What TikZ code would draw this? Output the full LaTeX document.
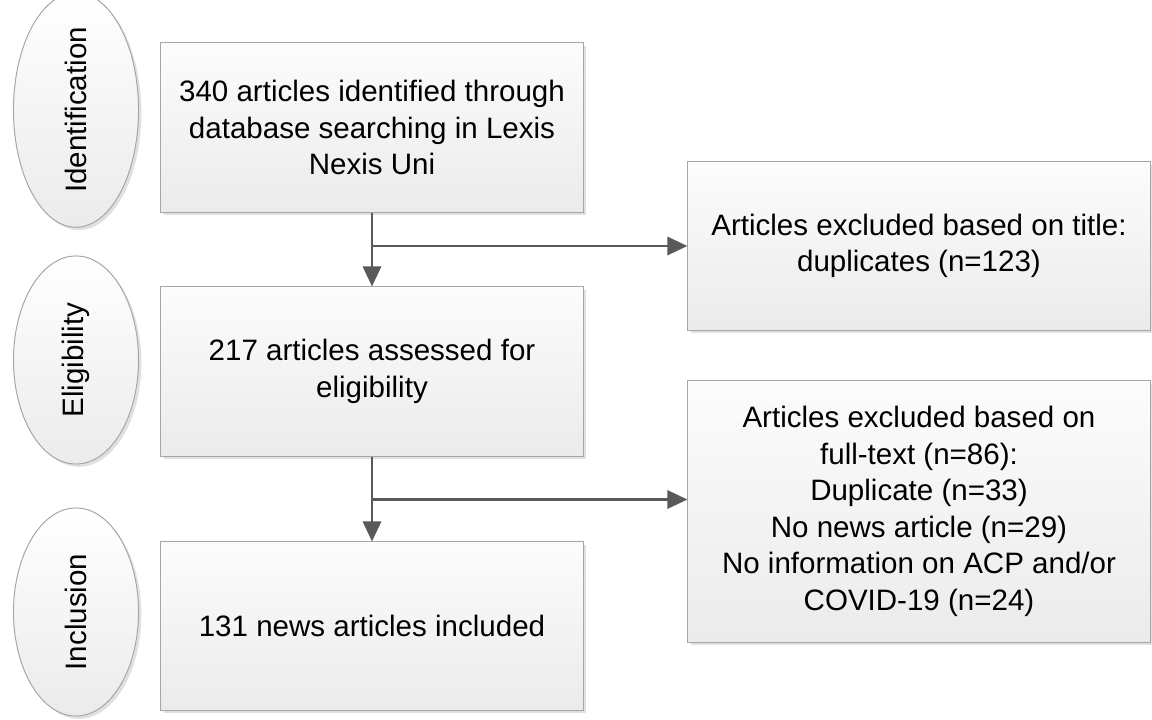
\documentclass[tikz,border=0pt]{standalone}
\usepackage{fontspec}
\setmainfont{Liberation Sans}
\usepackage{tikz}
\usetikzlibrary{arrows.meta,positioning,calc,shapes.geometric,shadows}
\definecolor{ArrowGray}{HTML}{595959}
\definecolor{EdgeGray}{HTML}{A6A6A6}
\definecolor{FillTop}{HTML}{FCFCFC}
\definecolor{FillBottom}{HTML}{EBEBEB}

\begin{document}
\begin{tikzpicture}[x=0.025cm,y=-0.025cm,>={Triangle[length=0.5cm,width=0.45cm]},
  every node/.style={font=\fontsize{21}{26}\selectfont},
  box/.style={draw=EdgeGray,line width=0.7pt,top color=FillTop,bottom color=FillBottom,
    drop shadow={shadow xshift=0.07cm,shadow yshift=-0.07cm,opacity=0.2,fill=black!60},
    align=center,inner sep=0pt,minimum width=10.55cm,minimum height=4.225cm},
  side/.style={box,minimum width=11.55cm},
  stage/.style={ellipse,draw=EdgeGray,line width=0.7pt,top color=white,bottom color=FillBottom,
    drop shadow={shadow xshift=0.07cm,shadow yshift=-0.07cm,opacity=0.2,fill=black!60},
    rotate=90,inner sep=0pt,minimum width=5.2cm,minimum height=3.125cm},
  flow/.style={->,line width=2.1pt,ArrowGray}]
  \useasboundingbox (0,0) rectangle (1152,720);

  % phases on the left
  \foreach \nm/\yy/\txt in {idf/110/Identification,elg/360/Eligibility,inc/612/Inclusion}{
    \node[stage] (\nm) at (76,\yy) {\txt};
  }

  % main flow
  \node[box] (srch) at (372,127.5) {340 articles identified through\\database searching in Lexis\\Nexis Uni};
  \node[box] (elig) at (372,371.5) {217 articles assessed for\\eligibility};
  \node[box,minimum height=4.2cm] (incl) at (372,626) {131 news articles included};

  % exclusions
  \node[side,minimum height=4.2cm] (excl1) at (919,246) {Articles excluded based on title:\\duplicates (n=123)};
  \node[side,minimum height=6.525cm] (excl2) at (919,511.5) {Articles excluded based on\\full-text (n=86):\\Duplicate (n=33)\\No news article (n=29)\\No information on ACP and/or\\COVID-19 (n=24)};

  \coordinate (j2) at ($(elig.south)+(0,43)$);
  \draw[flow] (srch) -- (elig);
  \draw[flow] (srch.south |- excl1.west) -- (excl1.west);
  \draw[flow] (elig) -- (incl);
  \draw[flow] (j2) -- (j2 -| excl2.west);
\end{tikzpicture}
\end{document}
